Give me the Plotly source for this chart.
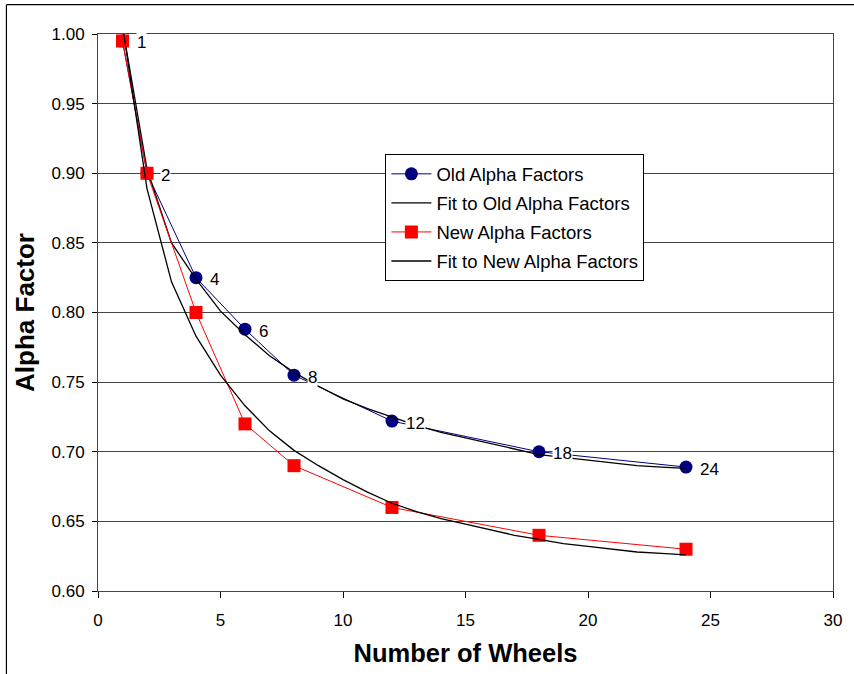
import plotly.graph_objects as go

# Measured alpha factors by number of wheels
wheels = [1, 2, 4, 6, 8, 12, 18, 24]
old_alpha = [0.995, 0.900, 0.825, 0.788, 0.755, 0.722, 0.700, 0.689]
new_alpha = [0.995, 0.900, 0.800, 0.720, 0.690, 0.660, 0.640, 0.630]

# Fitted curves, sampled at every wheel count
fit_wheels = list(range(1, 25))
fit_old = [1.005, 0.903, 0.850, 0.824, 0.801, 0.784, 0.769, 0.757, 0.747, 0.738,
           0.731, 0.725, 0.719, 0.714, 0.710, 0.706, 0.702, 0.698, 0.696, 0.694,
           0.692, 0.690, 0.689, 0.688]
fit_new = [1.006, 0.889, 0.822, 0.783, 0.755, 0.733, 0.715, 0.701, 0.690, 0.680,
           0.671, 0.663, 0.657, 0.652, 0.648, 0.644, 0.640, 0.637, 0.634, 0.632,
           0.630, 0.628, 0.627, 0.626]

x_ticks = [0, 5, 10, 15, 20, 25, 30]
y_ticks = [0.60, 0.65, 0.70, 0.75, 0.80, 0.85, 0.90, 0.95, 1.00]

NAVY = "#000080"
RED = "#FF0000"
BASE_FONT = "Liberation Sans, Arial, sans-serif"
NARROW_FONT = "Liberation Sans Narrow, Arial Narrow, Liberation Sans, sans-serif"

fig = go.Figure()
fig.add_trace(go.Scatter(
    x=wheels, y=old_alpha, name="Old Alpha Factors", mode="lines+markers",
    line=dict(color=NAVY, width=1), marker=dict(color=NAVY, size=13, symbol="circle"),
    legendgroup="a"))
fig.add_trace(go.Scatter(
    x=fit_wheels, y=fit_old, name="Fit to Old Alpha Factors", mode="lines",
    line=dict(color="black", width=1.3), legendgroup="b"))
fig.add_trace(go.Scatter(
    x=wheels, y=new_alpha, name="New Alpha Factors", mode="lines+markers",
    line=dict(color=RED, width=1), marker=dict(color=RED, size=13, symbol="square"),
    legendgroup="c"))
fig.add_trace(go.Scatter(
    x=fit_wheels, y=fit_new, name="Fit to New Alpha Factors", mode="lines",
    line=dict(color="black", width=1.3), legendgroup="d"))

# Wheel-count labels beside the old-factor points
for w, a in zip(wheels, old_alpha):
    fig.add_annotation(x=w, y=a, text=str(w), showarrow=False, xanchor="left",
                       yanchor="middle", xshift=13, yshift=-2, bgcolor="white",
                       borderpad=0, font=dict(family=BASE_FONT, size=17, color="black"))

# Outer chart frame
fig.add_shape(type="line", xref="paper", yref="paper", x0=-0.1246, y0=1.0527,
              x1=1.2, y1=1.0527, line=dict(color="black", width=1.2))
fig.add_shape(type="line", xref="paper", yref="paper", x0=-0.1246, y0=1.0527,
              x1=-0.1246, y1=-0.3, line=dict(color="black", width=1.2))

fig.update_layout(
    width=854, height=674,
    margin=dict(l=98, r=21, t=34, b=80),
    paper_bgcolor="white", plot_bgcolor="white",
    font=dict(family=BASE_FONT, size=15, color="black"),
    showlegend=True,
    legend=dict(x=0.391, y=0.784, xanchor="left", yanchor="top",
                bgcolor="white", bordercolor="black", borderwidth=1,
                font=dict(family=BASE_FONT, size=18.5, color="black"),
                itemwidth=40, traceorder="grouped", tracegroupgap=2),
    xaxis=dict(range=[0, 30], tickvals=x_ticks, ticks="outside", ticklen=6,
               tickcolor="black", showgrid=False, zeroline=False,
               showline=True, linecolor="#444", linewidth=1, mirror=True,
               tickfont=dict(family=NARROW_FONT, size=17), ticklabelstandoff=8,
               title=dict(text="<b>Number of Wheels</b>", standoff=14,
                          font=dict(family=NARROW_FONT, size=25.5))),
    yaxis=dict(range=[0.6, 1.0], tickvals=y_ticks, tickformat=".2f",
               ticks="outside", ticklen=5, tickcolor="black",
               showgrid=True, gridcolor="#444", gridwidth=1, zeroline=False,
               showline=True, linecolor="#444", linewidth=1, mirror=True,
               tickfont=dict(family=BASE_FONT, size=17), ticklabelstandoff=4,
               title=dict(text="<b>Alpha Factor</b>", standoff=9,
                          font=dict(family=NARROW_FONT, size=26))),
)

fig.write_html("out.html")
